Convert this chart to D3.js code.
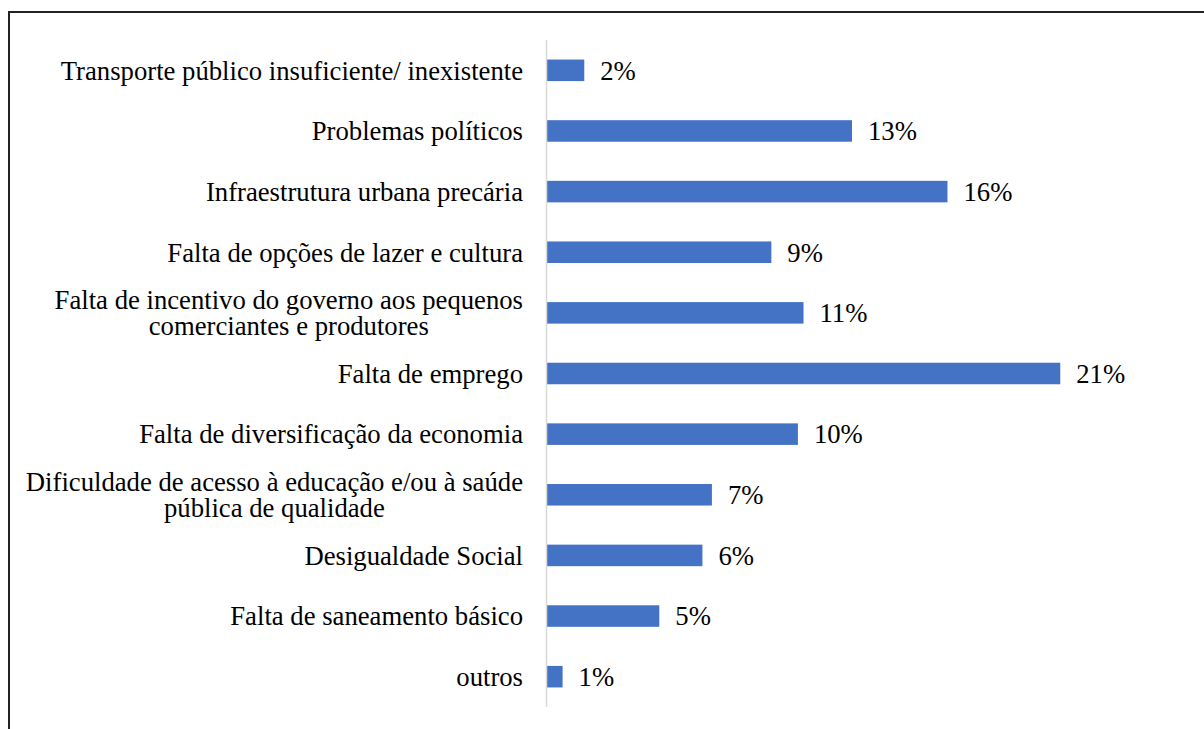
<!DOCTYPE html>
<html>
<head>
<meta charset="utf-8">
<script src="https://cdn.jsdelivr.net/npm/d3@7"></script>
<style>
  html, body { margin: 0; padding: 0; background: #fff; }
  svg { display: block; }
</style>
</head>
<body>
<svg id="chart" width="1204" height="729"></svg>
<script>
// Categories, top to bottom; multi-line labels split into lines
const categories = [
  ["Transporte público insuficiente/ inexistente"],
  ["Problemas políticos"],
  ["Infraestrutura urbana precária"],
  ["Falta de opções de lazer e cultura"],
  ["Falta de incentivo do governo aos pequenos", "comerciantes e produtores"],
  ["Falta de emprego"],
  ["Falta de diversificação da economia"],
  ["Dificuldade de acesso à educação e/ou à saúde", "pública de qualidade"],
  ["Desigualdade Social"],
  ["Falta de saneamento básico"],
  ["outros"]
];
// Share of responses per category
const values = [0.0153, 0.1252, 0.1644, 0.0921, 0.1053, 0.2107, 0.1030, 0.0677, 0.0638, 0.0461, 0.0064];

const svg = d3.select("#chart");
const W = 1204, H = 729;
const font = "\"Liberation Serif\"";
const fs = 26.7;

// Frame lines (top and left)
svg.append("line").attr("x1", 9).attr("x2", W).attr("y1", 12).attr("y2", 12)
  .attr("stroke", "#222").attr("stroke-width", 2);
svg.append("line").attr("x1", 9).attr("x2", 9).attr("y1", 11).attr("y2", H)
  .attr("stroke", "#222").attr("stroke-width", 2);

const x0 = 547;
const x = d3.scaleLinear().domain([0, 0.25]).range([x0, x0 + 609]);
const idx = d3.range(categories.length);
const y = d3.scaleBand().domain(idx).range([40, 707]).paddingInner(0.645).paddingOuter(0.3225);

// Bars
svg.append("g").selectAll("rect").data(idx).join("rect")
  .attr("x", x(0))
  .attr("y", i => y(i))
  .attr("width", i => x(values[i]) - x(0))
  .attr("height", y.bandwidth())
  .attr("fill", "#4472c4");

// Category axis line
svg.append("line").attr("x1", x0 - 0.5).attr("x2", x0 - 0.5).attr("y1", 40).attr("y2", 707)
  .attr("stroke", "#d9d9d9").attr("stroke-width", 1.5);

// Category labels: right-aligned block, lines centred within it
const labelRight = 523;
const lineH = 26;
const lg = svg.append("g");
idx.forEach(i => {
  const lines = categories[i];
  const cy = y(i) + y.bandwidth() / 2;
  const t = lg.append("text").attr("text-anchor", "middle")
    .style("font-family", font).style("font-size", fs + "px").attr("fill", "#000");
  lines.forEach((s, k) => {
    t.append("tspan").text(s)
      .attr("y", cy + (k - (lines.length - 1) / 2) * lineH)
      .attr("dy", "0.35em");
  });
  // measure widest line, then place block so its right edge meets labelRight
  const widths = t.selectAll("tspan").nodes().map(n => n.getComputedTextLength());
  const wmax = d3.max(widths);
  t.selectAll("tspan").attr("x", labelRight - wmax / 2);
});

// Value labels
const fmt = d3.format(".0%");
svg.append("g")
  .selectAll("text").data(idx).join("text")
  .style("font-family", font).style("font-size", fs + "px").attr("fill", "#000")
  .attr("x", i => x(values[i]) + 16)
  .attr("y", i => y(i) + y.bandwidth() / 2)
  .attr("dy", "0.35em")
  .text(i => fmt(values[i]));
</script>
</body>
</html>
